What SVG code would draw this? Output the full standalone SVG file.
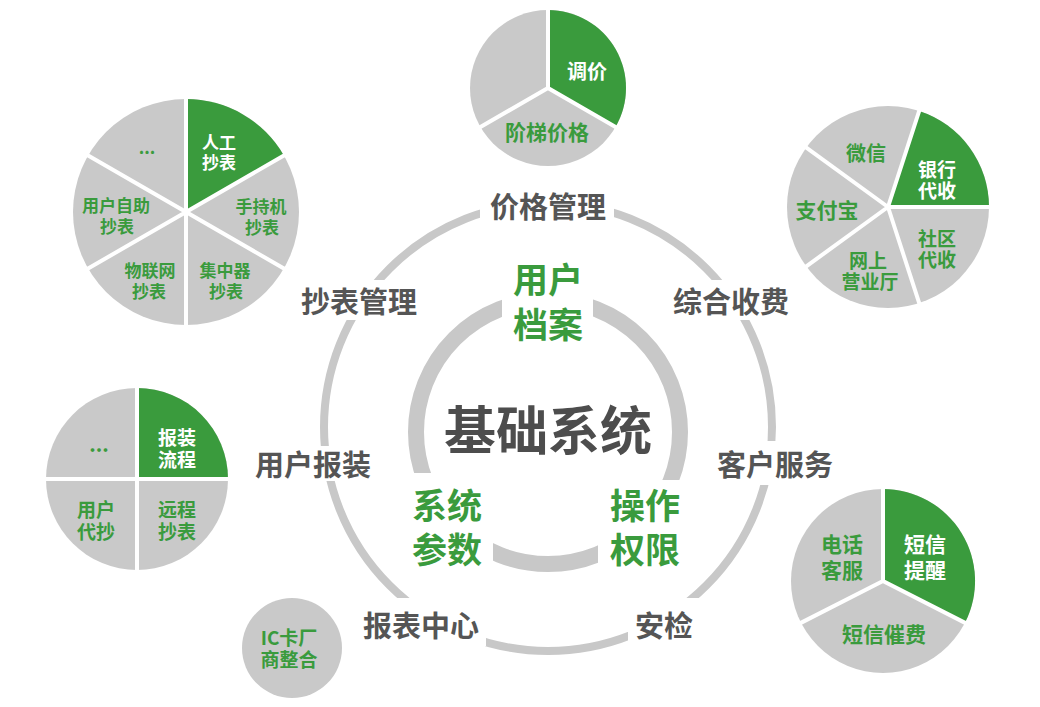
<svg xmlns="http://www.w3.org/2000/svg" width="1040" height="707" viewBox="0 0 1040 707">
<style>
.ring{fill:none;stroke:#c8c8c8}
.sl{fill:#c9c9c9}
.gr{fill:#3a9b3d}
.sep{stroke:#fff;stroke-width:4;fill:none}
text{font-family:"Noto Sans CJK SC","Noto Sans",sans-serif;font-weight:700;text-anchor:middle;dominant-baseline:central}
.lab{fill:#555;font-size:29px}
.gt{fill:#3a9b3d}
.wt{fill:#fff}
.p17{font-size:17px}
.p19{font-size:19px}
.p20{font-size:20px}
.p21{font-size:21px}
.mid{font-size:35px}
</style>
<defs>
<mask id="mo" maskUnits="userSpaceOnUse" x="0" y="0" width="1040" height="707">
<rect width="1040" height="707" fill="#fff"/>
<rect x="480" y="180" width="134" height="60" fill="#000"/>
<rect x="290" y="280" width="136" height="40" fill="#000"/>
<rect x="664" y="280" width="140" height="40" fill="#000"/>
<rect x="245" y="446" width="136" height="35" fill="#000"/>
<rect x="708" y="441" width="134" height="44" fill="#000"/>
<rect x="355" y="598" width="131" height="48" fill="#000"/>
<rect x="628" y="598" width="74" height="48" fill="#000"/>
</mask>
<mask id="mi" maskUnits="userSpaceOnUse" x="0" y="0" width="1040" height="707">
<rect width="1040" height="707" fill="#fff"/>
<rect x="502" y="250" width="91" height="100" fill="#000"/>
<rect x="400" y="473" width="93" height="110" fill="#000"/>
<rect x="598" y="480" width="96" height="105" fill="#000"/>
</mask>
</defs>
<rect width="1040" height="707" fill="#fff"/>

<g id="connectors">
<circle class="ring" cx="548" cy="427" r="224" stroke-width="8" mask="url(#mo)"/>
<circle class="ring" cx="548" cy="432" r="132" stroke-width="16" mask="url(#mi)"/>
</g>

<g id="core">
<text x="548" y="427" fill="#4d4d4d" font-size="52" font-weight="900">基础系统</text>
</g>
<g id="user-archive">
<text class="gt mid"><tspan x="548" y="277">用户</tspan><tspan x="548" y="322">档案</tspan></text>
</g>
<g id="sys-params">
<text class="gt mid"><tspan x="447" y="503">系统</tspan><tspan x="447" y="547">参数</tspan></text>
</g>
<g id="op-perm">
<text class="gt mid"><tspan x="645" y="503">操作</tspan><tspan x="645" y="547">权限</tspan></text>
</g>

<g id="label-price"><text class="lab" x="548" y="205">价格管理</text></g>
<g id="label-meter"><text class="lab" x="359" y="300">抄表管理</text></g>
<g id="label-charge"><text class="lab" x="731" y="300">综合收费</text></g>
<g id="label-install"><text class="lab" x="313" y="463">用户报装</text></g>
<g id="label-service"><text class="lab" x="775" y="463">客户服务</text></g>
<g id="label-report"><text class="lab" x="421" y="624">报表中心</text></g>
<g id="label-check"><text class="lab" x="664" y="624">安检</text></g>

<g id="pie-meter">
<circle class="sl" cx="186" cy="212" r="113"/>
<path class="gr" d="M186,212 L186,99 A113,113 0 0 1 283.86,155.5 Z"/>
<path class="sep" d="M186,97 L186,327 M85.5,154 L286.5,270 M85.5,270 L286.5,154"/>
<text class="wt p17"><tspan x="219" y="141">人工</tspan><tspan x="219" y="161">抄表</tspan></text>
<text class="gt p17" x="147" y="146">...</text>
<text class="gt p17"><tspan x="116" y="204">用户自助</tspan><tspan x="117" y="225">抄表</tspan></text>
<text class="gt p17"><tspan x="261" y="205">手持机</tspan><tspan x="262" y="226">抄表</tspan></text>
<text class="gt p17"><tspan x="150" y="269">物联网</tspan><tspan x="149" y="290">抄表</tspan></text>
<text class="gt p17"><tspan x="225" y="269">集中器</tspan><tspan x="226" y="290">抄表</tspan></text>
</g>

<g id="pie-price">
<circle class="sl" cx="548" cy="88" r="78"/>
<path class="gr" d="M548,88 L548,10 A78,78 0 0 1 615.55,127 Z"/>
<path class="sep" d="M548,8 L548,88 L617.3,128 M548,88 L478.7,128"/>
<text class="wt p20" x="587" y="70">调价</text>
<text class="gt p21" x="547" y="131">阶梯价格</text>
</g>

<g id="pie-charge">
<circle class="sl" cx="888" cy="207" r="101"/>
<path class="gr" d="M888,207 L919.2,110.94 A101,101 0 0 1 989,207 Z"/>
<path class="sep" d="M888,207 L920.1,108.1 M888,207 L992,207 M888,207 L920.1,305.9 M888,207 L803.9,268.1 M888,207 L803.9,145.9"/>
<text class="gt p20" x="866" y="152">微信</text>
<text class="wt p19"><tspan x="937" y="168">银行</tspan><tspan x="937" y="189">代收</tspan></text>
<text class="gt p21" x="827" y="209">支付宝</text>
<text class="gt p19"><tspan x="937" y="237">社区</tspan><tspan x="937" y="258">代收</tspan></text>
<text class="gt p19"><tspan x="868" y="259">网上</tspan><tspan x="870" y="280">营业厅</tspan></text>
</g>

<g id="pie-install">
<circle class="sl" cx="137" cy="479" r="91"/>
<path class="gr" d="M137,479 L137,388 A91,91 0 0 1 228,479 Z"/>
<path class="sep" d="M137,386 L137,572 M44,479 L230,479"/>
<text class="wt p19"><tspan x="177" y="436">报装</tspan><tspan x="177" y="458">流程</tspan></text>
<text class="gt p20" x="99" y="443">...</text>
<text class="gt p19"><tspan x="96" y="508">用户</tspan><tspan x="96" y="530">代抄</tspan></text>
<text class="gt p19"><tspan x="177" y="508">远程</tspan><tspan x="177" y="530">抄表</tspan></text>
</g>

<g id="pie-service">
<circle class="sl" cx="883" cy="581" r="92"/>
<path class="gr" d="M883,581 L883,489 A92,92 0 0 1 965,622.8 Z"/>
<path class="sep" d="M883,487 L883,581 L967.6,624.1 M883,581 L798.4,624.1"/>
<text class="gt p21"><tspan x="842" y="543">电话</tspan><tspan x="842" y="569">客服</tspan></text>
<text class="wt p21"><tspan x="925" y="543">短信</tspan><tspan x="925" y="569">提醒</tspan></text>
<text class="gt p21" x="884" y="633">短信催费</text>
</g>

<g id="ic-card">
<circle class="sl" cx="292" cy="648" r="50"/>
<text class="gt p19"><tspan x="289" y="636">IC卡厂</tspan><tspan x="289" y="658">商整合</tspan></text>
</g>
</svg>
